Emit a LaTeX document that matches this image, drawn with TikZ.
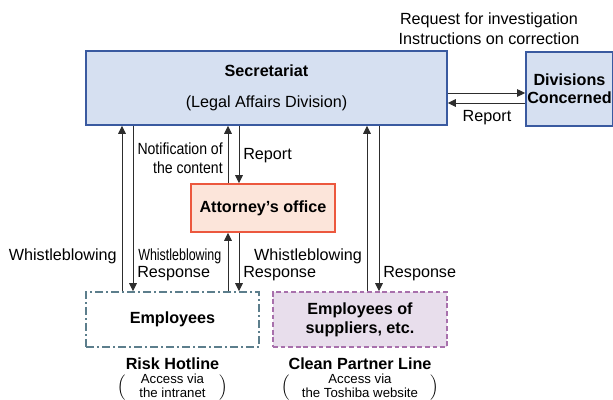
\documentclass[tikz,border=0pt]{standalone}
\usepackage{fontspec}
\setmainfont{Liberation Sans}
\usetikzlibrary{arrows.meta,positioning}
\definecolor{blueFrame}{RGB}{58,90,160}
\definecolor{blueFill}{RGB}{214,224,241}
\definecolor{redFrame}{RGB}{236,88,62}
\definecolor{salmonFill}{RGB}{252,229,218}
\definecolor{slateFrame}{RGB}{92,126,140}
\definecolor{lilacFrame}{RGB}{168,112,172}
\definecolor{lilacFill}{RGB}{232,222,236}
\definecolor{lineGray}{RGB}{45,45,45}
\newcommand{\lblfont}{\fontsize{11.5}{13}\selectfont}
\newcommand{\notefont}{\fontsize{9.4}{9.8}\selectfont}
\newcommand{\narrowtext}[2][0.87]{\scalebox{#1}[1]{#2}}
\tikzset{
  unit/.style={rectangle, draw=blueFrame, line width=1.1pt, fill=blueFill,
               align=center, font=\lblfont},
  office/.style={rectangle, draw=redFrame, line width=1.1pt, fill=salmonFill,
                 align=center, font=\lblfont\bfseries},
  source/.style={rectangle, line width=1.1pt, align=center, font=\lblfont\bfseries},
  flow/.style={-{Triangle[length=2mm,width=1.9mm]}, line width=0.7pt, lineGray},
  lbl/.style={inner sep=0pt, font=\lblfont},
  lblb/.style={inner sep=0pt, font=\lblfont\bfseries},
  note/.style={inner sep=0pt, font=\notefont},
}

\begin{document}
\begin{tikzpicture}
  \useasboundingbox (0,0) rectangle (15.325,-10);

  % boxes
  \node[unit, minimum width=9.025cm, minimum height=1.85cm] (sec) at (6.6625,-2.2)
       {\textbf{Secretariat}\\[9pt](Legal Affairs Division)};
  \node[unit, font=\lblfont\bfseries, inner sep=1pt, minimum width=2.125cm,
        minimum height=1.85cm] (div) at (14.2375,-2.225) {Divisions\\Concerned};
  \node[office, minimum width=3.6cm, minimum height=1.2cm] (att) at (6.575,-5.2)
       {Attorney’s office};
  \node[source, draw=slateFrame,
        dash pattern=on 0.2cm off 0.08cm on 0.04cm off 0.08cm,
        minimum width=4.325cm, minimum height=1.375cm] (emp) at (4.3125,-7.9875)
       {Employees};
  \node[source, draw=lilacFrame, fill=lilacFill, dash pattern=on 0.12cm off 0.07cm,
        minimum width=4.35cm, minimum height=1.375cm] (sup) at (9.0,-7.9875)
       {Employees of\\[0.5pt]suppliers, etc.};

  % lanes
  \coordinate (laneA) at (3.05,0);
  \coordinate (laneB) at (3.325,0);
  \coordinate (laneC) at (5.7,0);
  \coordinate (laneD) at (5.975,0);
  \coordinate (laneE) at (9.175,0);
  \coordinate (laneF) at (9.475,0);

  \draw[flow] (emp.north -| laneA) -- (sec.south -| laneA);
  \draw[flow] (sec.south -| laneB) -- (emp.north -| laneB);
  \draw[flow] (att.north -| laneC) -- (sec.south -| laneC);
  \draw[flow] (sec.south -| laneD) -- (att.north -| laneD);
  \draw[flow] (emp.north -| laneC) -- (att.south -| laneC);
  \draw[flow] (att.south -| laneD) -- (emp.north -| laneD);
  \draw[flow] (sup.north -| laneE) -- (sec.south -| laneE);
  \draw[flow] (sec.south -| laneF) -- (sup.north -| laneF);

  \draw[flow] ([yshift=-0.125cm]sec.east) -- ([yshift=-0.125cm]sec.east -| div.west);
  \draw[flow] ([yshift=-0.375cm]sec.east -| div.west) -- ([yshift=-0.375cm]sec.east);

  % labels
  \node[lbl, align=center] (req) at (12.225,-0.725)
       {Request for investigation\\[1pt]Instructions on correction};
  \node[lbl] (repdiv) at (12.175,-2.93) {Report};
  \node[lbl, align=right, anchor=east] (notif) at (5.575,-3.96)
       {\narrowtext{Notification of}\\[0.5pt]\narrowtext{the content}};
  \node[lbl, anchor=west] (repatt) at (6.075,-3.9) {Report};
  \node[lbl, anchor=east] (wbemp) at (2.925,-6.42) {Whistleblowing};
  \node[lbl, anchor=west] (wbatt) at (3.45,-6.42) {\narrowtext[0.77]{Whistleblowing}};
  \node[lbl, anchor=west] (rsemp) at (3.425,-6.84) {Response};
  \node[lbl] (wbsec) at (7.7,-6.42) {Whistleblowing};
  \node[lbl, anchor=west] (rsatt) at (6.075,-6.84) {Response};
  \node[lbl, anchor=west] (rssup) at (9.575,-6.84) {Response};

  \node[lblb, below=0.25cm of emp] (rh) {Risk Hotline};
  \node[note, below=0.08cm of rh] (rhacc)
       {$\left(\vcenter{\hbox{\notefont\begin{tabular}{@{\hspace{3.5mm}}c@{\hspace{3.5mm}}}Access via\\the intranet\end{tabular}}}\right)$};
  \node[lblb, below=0.25cm of sup] (cp) {Clean Partner Line};
  \node[note, below=0.08cm of cp] (cpacc)
       {$\left(\vcenter{\hbox{\notefont\begin{tabular}{@{\hspace{3mm}}c@{\hspace{3mm}}}Access via\\the Toshiba website\end{tabular}}}\right)$};
\end{tikzpicture}
\end{document}
